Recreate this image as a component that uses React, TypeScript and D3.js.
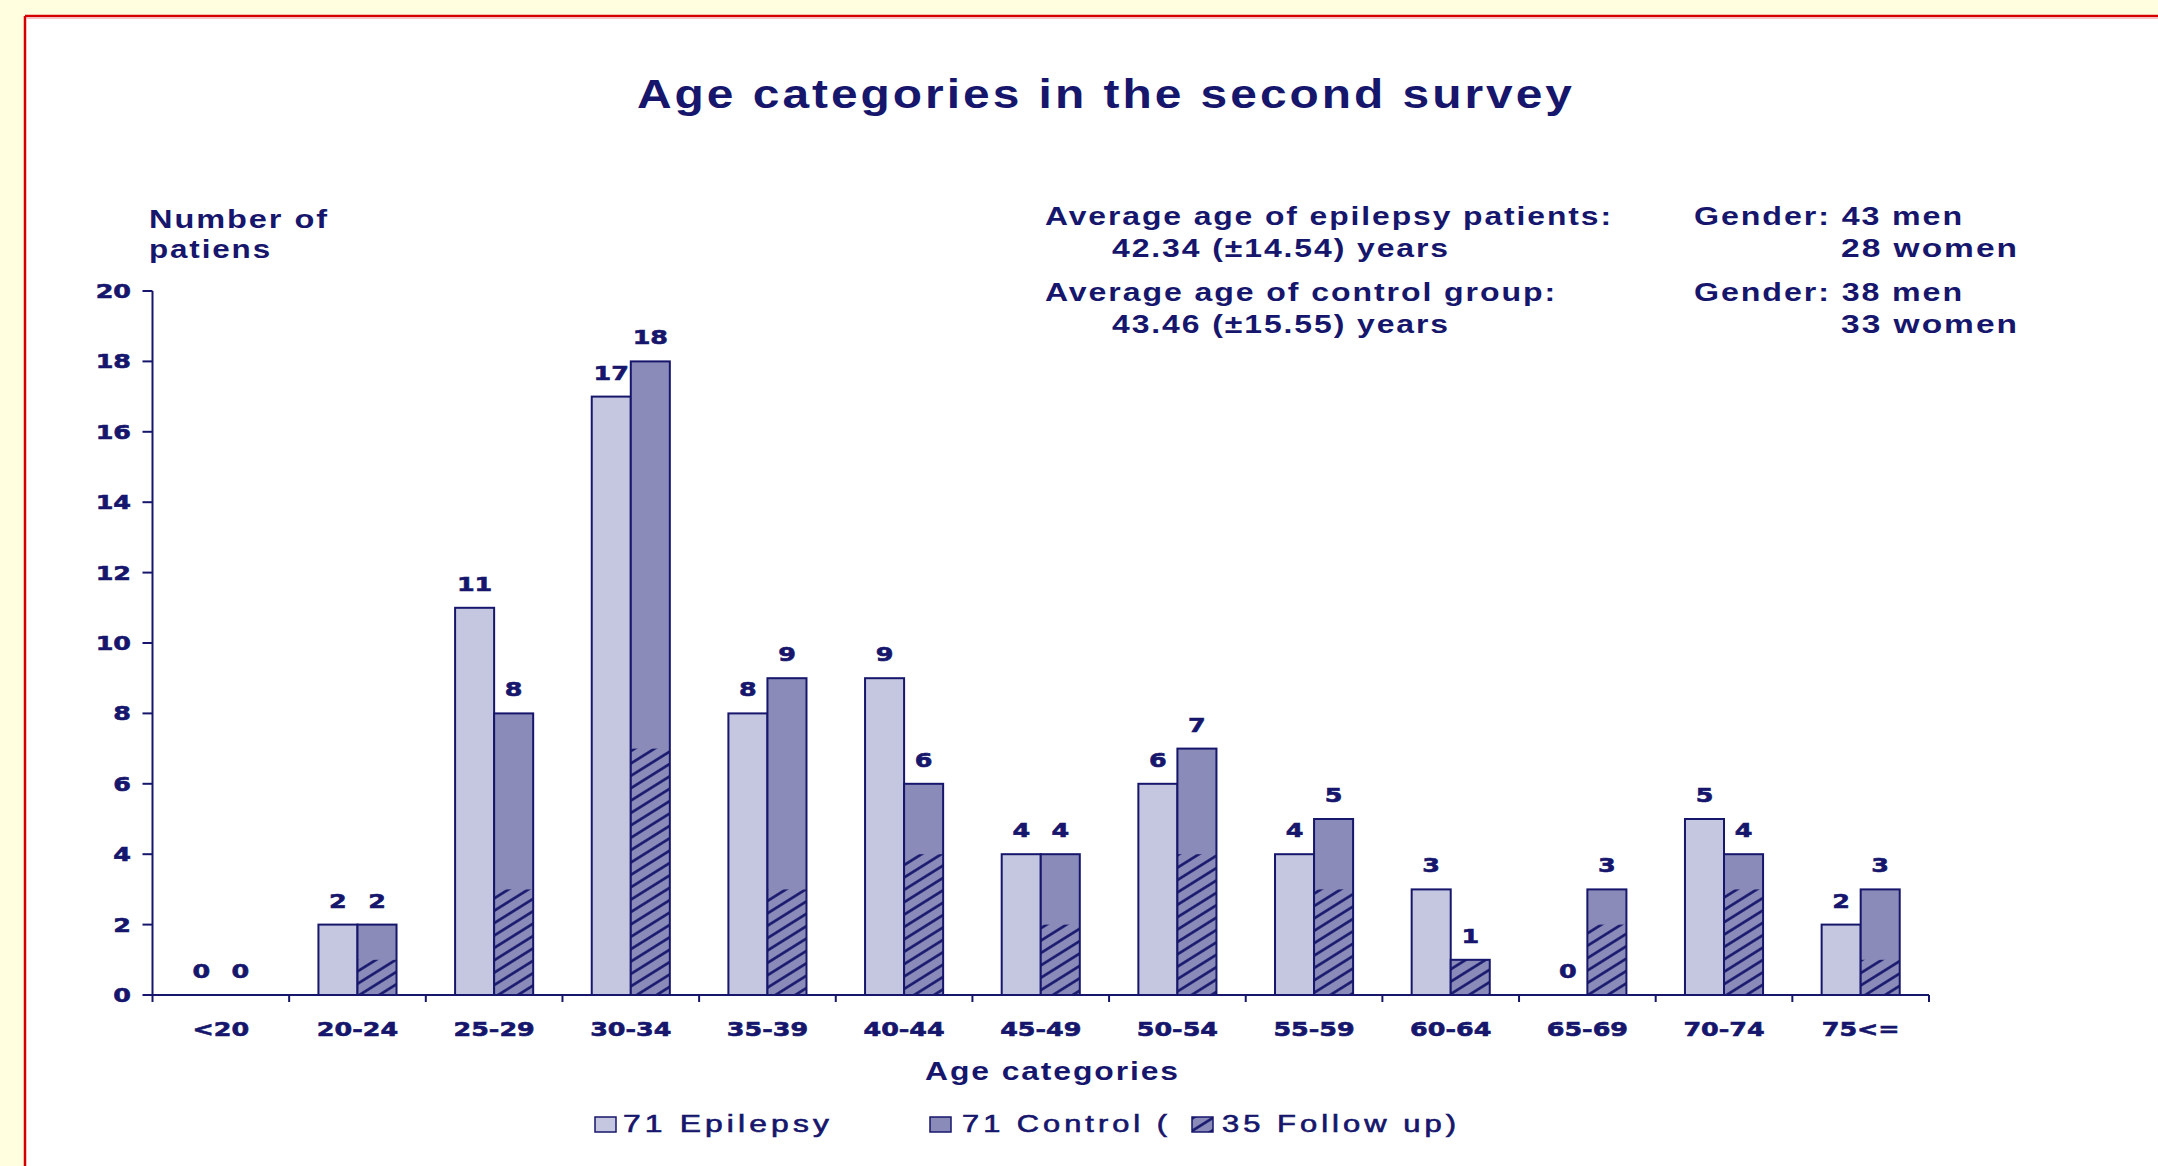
import React from 'react';
import * as d3 from 'd3';

// Age groups and counts per group
const categories = ['<20', '20-24', '25-29', '30-34', '35-39', '40-44', '45-49', '50-54', '55-59', '60-64', '65-69', '70-74', '75<='];
const epilepsy = [0, 2, 11, 17, 8, 9, 4, 6, 4, 3, 0, 5, 2];
const control = [0, 2, 8, 18, 9, 6, 4, 7, 5, 1, 3, 4, 3];
const followUp = [0, 1, 3, 7, 3, 4, 2, 4, 3, 1, 2, 3, 1];
const yTicks = [0, 2, 4, 6, 8, 10, 12, 14, 16, 18, 20];

// Group summaries
const epilepsyCount = 71;
const controlCount = 71;
const followUpCount = 35;
const epilepsyAge = [42.34, 14.54];
const controlAge = [43.46, 15.55];
const epilepsyGender = [43, 28];
const controlGender = [38, 33];

const W = 2158;
const H = 1166;
const NAVY = '#16166c';
const EPI = '#c5c6df';
const CTRL = '#8a8bb9';
const TEXT_FONT = '"Liberation Sans", Arial, sans-serif';
const NUM_FONT = '"DejaVu Sans", sans-serif';

const plot = { left: 152.5, right: 1929, top: 291, bottom: 995 };

function Num({ x, y, anchor = 'middle', children }: { x: number; y: number; anchor?: string; children: React.ReactNode }) {
  return (
    <g transform={`translate(${x},${y}) scale(1.27,1)`}>
      <text
        textAnchor={anchor}
        fontFamily={NUM_FONT}
        fontWeight="bold"
        fontSize={20}
        fill={NAVY}
        stroke={NAVY}
        strokeWidth={0.6}
      >
        {children}
      </text>
    </g>
  );
}

// Wide slide lettering: glyphs and gaps are stretched to fill the given width
function Label({
  x,
  y,
  width,
  size,
  bold = true,
  spacing = 1.5,
  outline = 0,
  children,
}: {
  x: number;
  y: number;
  width: number;
  size: number;
  bold?: boolean;
  spacing?: number;
  outline?: number;
  children: React.ReactNode;
}) {
  return (
    <text
      x={x}
      y={y}
      textLength={width}
      lengthAdjust="spacingAndGlyphs"
      letterSpacing={spacing}
      fontFamily={TEXT_FONT}
      fontWeight={bold ? 'bold' : 'normal'}
      fontSize={size}
      fill={NAVY}
      stroke={outline > 0 ? NAVY : 'none'}
      strokeWidth={outline}
    >
      {children}
    </text>
  );
}

export default function App() {
  const x0 = d3.scaleBand<string>().domain(categories).range([plot.left, plot.right]).padding(0);
  const x1 = d3
    .scaleBand<string>()
    .domain(['epilepsy', 'control'])
    .range([0, x0.bandwidth()])
    .paddingInner(0)
    .paddingOuter(0.75);
  const y = d3.scaleLinear().domain([0, 20]).range([plot.bottom, plot.top]);
  const bw = x1.bandwidth();
  const boundaries = d3.range(categories.length + 1).map((i) => plot.left + i * x0.step());

  const fmt = d3.format('.2f');

  return (
    <svg
      width={W}
      height={H}
      viewBox={`0 0 ${W} ${H}`}
      style={{ position: 'absolute', left: 0, top: 0, display: 'block' }}
    >
      <defs>
        <pattern id="hatch" patternUnits="userSpaceOnUse" width={10} height={10.5} patternTransform="rotate(-32)">
          <rect width={10} height={10.5} fill={CTRL} />
          <line x1={0} y1={5.25} x2={10} y2={5.25} stroke={NAVY} strokeWidth={2.6} />
        </pattern>
      </defs>

      {/* slide frame */}
      <rect x={0} y={0} width={W} height={H} fill="#ffffdf" />
      <rect x={25} y={16} width={W - 25} height={H - 16} fill="#ffffff" />
      <line x1={25} y1={16} x2={W} y2={16} stroke="#d40000" strokeWidth={2.5} />
      <line x1={25} y1={16} x2={25} y2={H} stroke="#d40000" strokeWidth={2.5} />
      <line x1={27} y1={18.5} x2={W} y2={18.5} stroke="#f6c4c4" strokeWidth={1} />

      {/* title */}
      <Label x={637} y={108} width={938} size={40} spacing={2.5}>Age categories in the second survey</Label>

      {/* summaries */}
      <Label x={1045} y={225} width={568} size={25}>Average age of epilepsy patients:</Label>
      <Label x={1112} y={257} width={338} size={25}>{`${fmt(epilepsyAge[0])} (±${fmt(epilepsyAge[1])}) years`}</Label>
      <Label x={1045} y={301} width={512} size={25}>Average age of control group:</Label>
      <Label x={1112} y={333} width={338} size={25}>{`${fmt(controlAge[0])} (±${fmt(controlAge[1])}) years`}</Label>
      <Label x={1694} y={225} width={270} size={25}>{`Gender: ${epilepsyGender[0]} men`}</Label>
      <Label x={1841} y={257} width={178} size={25}>{`${epilepsyGender[1]} women`}</Label>
      <Label x={1694} y={301} width={270} size={25}>{`Gender: ${controlGender[0]} men`}</Label>
      <Label x={1841} y={333} width={178} size={25}>{`${controlGender[1]} women`}</Label>

      {/* axis titles */}
      <Label x={149} y={228} width={180} size={25}>Number of</Label>
      <Label x={149} y={258} width={123} size={25}>patiens</Label>
      <Label x={925} y={1080} width={255} size={25}>Age categories</Label>

      {/* bars */}
      {categories.map((c, i) => {
        const bx = x0(c)!;
        const ex = bx + x1('epilepsy')!;
        const cx = bx + x1('control')!;
        return (
          <g key={c}>
            {epilepsy[i] > 0 && (
              <rect x={ex} y={y(epilepsy[i])} width={bw} height={y(0) - y(epilepsy[i])} fill={EPI} stroke={NAVY} strokeWidth={2} />
            )}
            {control[i] > 0 && (
              <>
                <rect x={cx} y={y(control[i])} width={bw} height={y(0) - y(control[i])} fill={CTRL} />
                {followUp[i] > 0 && (
                  <rect x={cx} y={y(followUp[i])} width={bw} height={y(0) - y(followUp[i])} fill="url(#hatch)" />
                )}
                <rect x={cx} y={y(control[i])} width={bw} height={y(0) - y(control[i])} fill="none" stroke={NAVY} strokeWidth={2} />
              </>
            )}
            <Num x={ex + bw / 2} y={y(epilepsy[i]) - 17}>{epilepsy[i]}</Num>
            <Num x={cx + bw / 2} y={y(control[i]) - 17}>{control[i]}</Num>
          </g>
        );
      })}

      {/* y axis */}
      <line x1={plot.left} y1={plot.top} x2={plot.left} y2={plot.bottom} stroke={NAVY} strokeWidth={2} />
      {yTicks.map((t) => (
        <g key={t}>
          <line x1={plot.left - 10} y1={y(t)} x2={plot.left} y2={y(t)} stroke={NAVY} strokeWidth={2} />
          <Num x={131} y={y(t) + 7} anchor="end">{t}</Num>
        </g>
      ))}

      {/* x axis */}
      <line x1={plot.left} y1={plot.bottom} x2={plot.right} y2={plot.bottom} stroke={NAVY} strokeWidth={2} />
      {boundaries.map((b, i) => (
        <line key={i} x1={b} y1={plot.bottom} x2={b} y2={plot.bottom + 7} stroke={NAVY} strokeWidth={2} />
      ))}
      {categories.map((c) => (
        <Num key={c} x={x0(c)! + x0.bandwidth() / 2} y={1036}>{c}</Num>
      ))}

      {/* legend */}
      <rect x={595} y={1117} width={21} height={15} fill={EPI} stroke={NAVY} strokeWidth={1.5} />
      <Label x={623} y={1132} width={210} size={23} bold={false} spacing={3} outline={0.6}>{`${epilepsyCount} Epilepsy`}</Label>
      <rect x={930} y={1117} width={21} height={15} fill={CTRL} stroke={NAVY} strokeWidth={1.5} />
      <Label x={962} y={1132} width={209} size={23} bold={false} spacing={3} outline={0.6}>{`${controlCount} Control (`}</Label>
      <rect x={1192} y={1117} width={21} height={15} fill="url(#hatch)" stroke={NAVY} strokeWidth={1.5} />
      <Label x={1222} y={1132} width={238} size={23} bold={false} spacing={3} outline={0.6}>{`${followUpCount} Follow up)`}</Label>
    </svg>
  );
}
